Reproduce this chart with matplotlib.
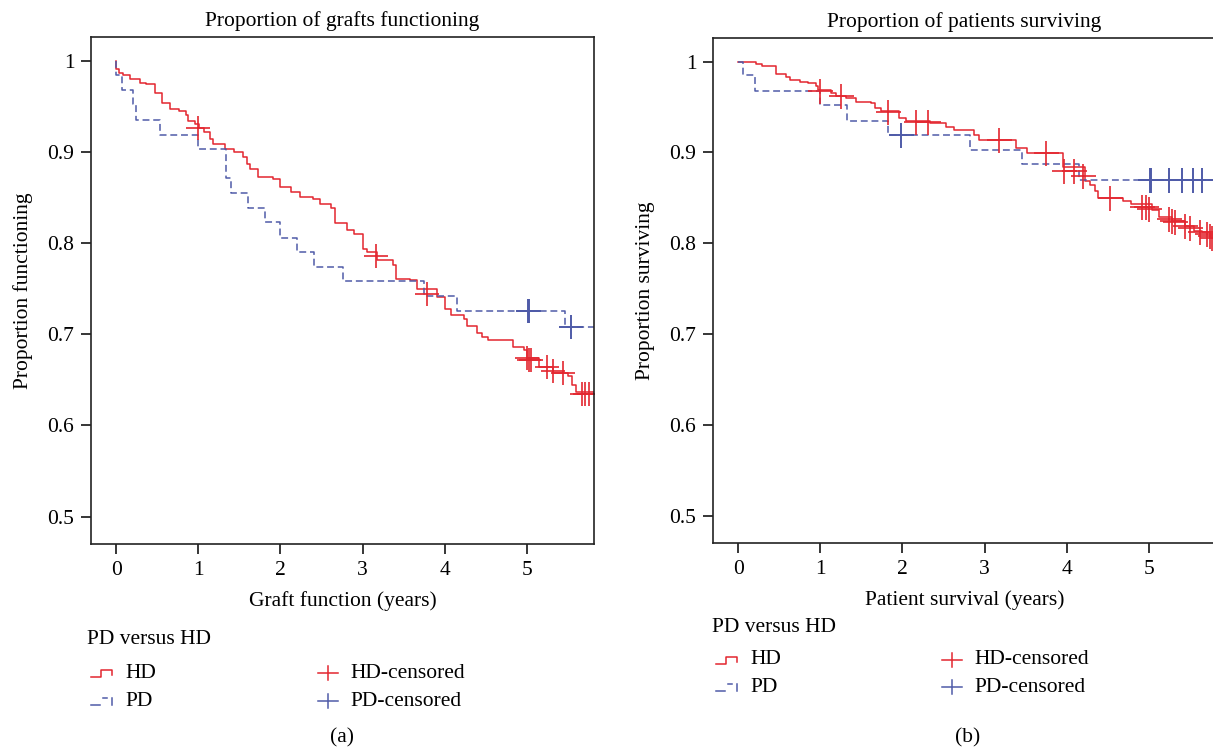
import matplotlib
matplotlib.use("Agg")
import matplotlib.pyplot as plt
from matplotlib.lines import Line2D

plt.rcParams['font.family'] = ['Liberation Serif', 'DejaVu Serif']
plt.rcParams['font.size'] = 15.5

RED = '#e3262f'
BLUE = '#4f5ba8'

# (a) graft function - Kaplan-Meier steps
graft_hd_t = [0, 0.0, 0.04, 0.09, 0.17, 0.29, 0.36, 0.47, 0.56, 0.66, 0.76, 0.85, 0.88,
              0.96, 1.01, 1.07, 1.14, 1.18, 1.33, 1.43, 1.55, 1.59, 1.63, 1.73, 1.91,
              2.0, 2.13, 2.24, 2.40, 2.48, 2.62, 2.66, 2.81, 2.89, 3.0, 3.05, 3.18,
              3.37, 3.41, 3.58, 3.66, 3.90, 4.0, 4.08, 4.23, 4.27, 4.39, 4.45, 4.53,
              4.83, 4.96, 5.0, 5.14, 5.32, 5.50, 5.55, 5.60, 5.81]
graft_hd_s = [1, 0.991, 0.987, 0.984, 0.980, 0.976, 0.974, 0.965, 0.954, 0.947, 0.945,
              0.940, 0.934, 0.931, 0.926, 0.922, 0.914, 0.909, 0.903, 0.900, 0.894,
              0.887, 0.881, 0.873, 0.870, 0.862, 0.856, 0.850, 0.848, 0.843, 0.838,
              0.822, 0.814, 0.810, 0.794, 0.790, 0.781, 0.776, 0.761, 0.759, 0.750,
              0.741, 0.728, 0.721, 0.717, 0.709, 0.701, 0.697, 0.694, 0.686, 0.683,
              0.674, 0.664, 0.657, 0.654, 0.644, 0.637, 0.637]
graft_hd_cens_t = [1.0, 3.16, 3.78, 5.0, 5.02, 5.05, 5.24, 5.32, 5.44, 5.67, 5.71, 5.75]
graft_hd_cens_s = [0.926, 0.786, 0.744, 0.674, 0.672, 0.672, 0.664, 0.660, 0.657,
                   0.635, 0.635, 0.635]

graft_pd_t = [0, 0, 0.069, 0.21, 0.243, 0.535, 1.0, 1.334, 1.40, 1.60, 1.81, 2.0,
              2.20, 2.41, 2.76, 3.75, 4.15, 5.46, 5.81]
graft_pd_s = [1, 0.984, 0.968, 0.952, 0.935, 0.919, 0.903, 0.871, 0.855, 0.839, 0.823,
              0.806, 0.790, 0.774, 0.758, 0.742, 0.726, 0.708, 0.708]
graft_pd_cens_t = [5.01, 5.03, 5.53]
graft_pd_cens_s = [0.726, 0.726, 0.708]

# (b) patient survival
surv_hd_t = [0, 0.22, 0.29, 0.46, 0.58, 0.63, 0.75, 0.85, 0.95, 0.97, 1.13, 1.19,
             1.31, 1.44, 1.62, 1.66, 1.74, 1.96, 2.04, 2.33, 2.53, 2.63, 2.87, 2.93,
             3.38, 3.52, 3.95, 4.22, 4.28, 4.34, 4.38, 4.68, 4.78, 5.04, 5.12, 5.28,
             5.44, 5.55, 5.65, 5.74, 5.81]
surv_hd_s = [1, 0.997, 0.995, 0.986, 0.983, 0.980, 0.978, 0.976, 0.973, 0.969, 0.965,
             0.962, 0.960, 0.956, 0.954, 0.949, 0.946, 0.938, 0.935, 0.932, 0.928,
             0.925, 0.919, 0.914, 0.905, 0.899, 0.884, 0.869, 0.864, 0.858, 0.850,
             0.847, 0.843, 0.837, 0.829, 0.825, 0.819, 0.814, 0.812, 0.806, 0.806]
surv_hd_cens_t = [1.0, 1.25, 1.82, 2.17, 2.31, 3.17, 3.75, 3.97, 4.09, 4.20, 4.53,
                  4.92, 4.96, 5.0, 5.24, 5.28, 5.32, 5.44, 5.50, 5.62, 5.70, 5.74, 5.77]
surv_hd_cens_s = [0.968, 0.962, 0.944, 0.934, 0.934, 0.914, 0.899, 0.880, 0.880, 0.874,
                  0.850, 0.840, 0.840, 0.838, 0.827, 0.825, 0.823, 0.819, 0.817,
                  0.812, 0.810, 0.808, 0.806]

surv_pd_t = [0, 0.06, 0.20, 1.0, 1.33, 1.82, 2.82, 3.45, 4.15, 5.81]
surv_pd_s = [1, 0.985, 0.968, 0.952, 0.935, 0.919, 0.903, 0.887, 0.870, 0.870]
surv_pd_cens_t = [1.98, 5.01, 5.02, 5.24, 5.40, 5.53, 5.65]
surv_pd_cens_s = [0.919, 0.870, 0.870, 0.870, 0.870, 0.870, 0.870]

W, H = 1213, 752
fig = plt.figure(figsize=(W / 100, H / 100), dpi=100)


def px(x, y):
    return x / W, 1 - y / H


def km_panel(rect, hd, pd, title, xlabel, ylabel, msize):
    ax = fig.add_axes(rect)
    ax.step(hd[0], hd[1], where='post', color=RED, lw=1.1)
    ax.step(pd[0], pd[1], where='post', color=BLUE, lw=1.1, dashes=(4.5, 2.5))
    ax.plot(hd[2], hd[3], ls='none', marker='+', ms=msize, mew=1.2, color=RED)
    ax.plot(pd[2], pd[3], ls='none', marker='+', ms=msize, mew=1.4, color=BLUE)
    ax.set_xlim(-0.305, 5.815)
    ax.set_ylim(0.47, 1.026)
    ax.set_xticks(range(6))
    ax.set_yticks([0.5, 0.6, 0.7, 0.8, 0.9, 1.0])
    ax.set_yticklabels(['0.5', '0.6', '0.7', '0.8', '0.9', '1'])
    ax.tick_params(direction='out', length=7, width=1.1, pad=5)
    for sp in ax.spines.values():
        sp.set_linewidth(1.2)
        sp.set_color('#222222')
    ax.set_title(title, pad=8, fontsize=15.5)
    ax.set_xlabel(xlabel, labelpad=8)
    ax.set_ylabel(ylabel, labelpad=10)
    return ax


km_panel([91 / W, 1 - 544 / H, 503 / W, 507 / H],
         (graft_hd_t, graft_hd_s, graft_hd_cens_t, graft_hd_cens_s),
         (graft_pd_t, graft_pd_s, graft_pd_cens_t, graft_pd_cens_s),
         'Proportion of grafts functioning', 'Graft function (years)',
         'Proportion functioning', 17)
km_panel([713 / W, 1 - 543 / H, 503 / W, 505 / H],
         (surv_hd_t, surv_hd_s, surv_hd_cens_t, surv_hd_cens_s),
         (surv_pd_t, surv_pd_s, surv_pd_cens_t, surv_pd_cens_s),
         'Proportion of patients surviving', 'Patient survival (years)',
         'Proportion surviving', 18)


def legend(x0, y_title, y1, y2, xc):
    fig.text(*px(x0, y_title), 'PD versus HD', ha='left', va='center')
    # step glyphs
    xs = [x0 + 4, x0 + 14, x0 + 14, x0 + 25, x0 + 25]
    ys = [y1 + 4, y1 + 4, y1 - 3, y1 - 3, y1 + 2]
    fig.add_artist(Line2D([px(a, b)[0] for a, b in zip(xs, ys)],
                          [px(a, b)[1] for a, b in zip(xs, ys)],
                          color=RED, lw=1.1, transform=fig.transFigure))
    for seg in ([(x0 + 4, y2 + 4), (x0 + 13, y2 + 4)],
                [(x0 + 16, y2 - 3), (x0 + 20, y2 - 3)],
                [(x0 + 25, y2 - 3), (x0 + 25, y2 + 4)]):
        fig.add_artist(Line2D([px(*p)[0] for p in seg], [px(*p)[1] for p in seg],
                              color=BLUE, lw=1.1, transform=fig.transFigure))
    fig.text(*px(x0 + 38, y1), 'HD', ha='left', va='center')
    fig.text(*px(x0 + 38, y2), 'PD', ha='left', va='center')
    for yy, col, lab in ((y1, RED, 'HD-censored'), (y2, BLUE, 'PD-censored')):
        fig.add_artist(Line2D([px(xc - 10, yy)[0], px(xc + 10, yy)[0]],
                              [px(xc, yy)[1]] * 2, color=col, lw=1.1,
                              transform=fig.transFigure))
        fig.add_artist(Line2D([px(xc, yy)[0]] * 2,
                              [px(xc, yy - 7)[1], px(xc, yy + 7)[1]], color=col,
                              lw=1.1, transform=fig.transFigure))
        fig.text(*px(xc + 22, yy), lab, ha='left', va='center')


legend(87, 640, 673, 701, 328)
legend(712, 628, 660, 687, 952)

fig.text(*px(342, 738), '(a)', ha='center', va='center')
fig.text(*px(968, 738), '(b)', ha='center', va='center')

fig.savefig('out.png', dpi=100)
